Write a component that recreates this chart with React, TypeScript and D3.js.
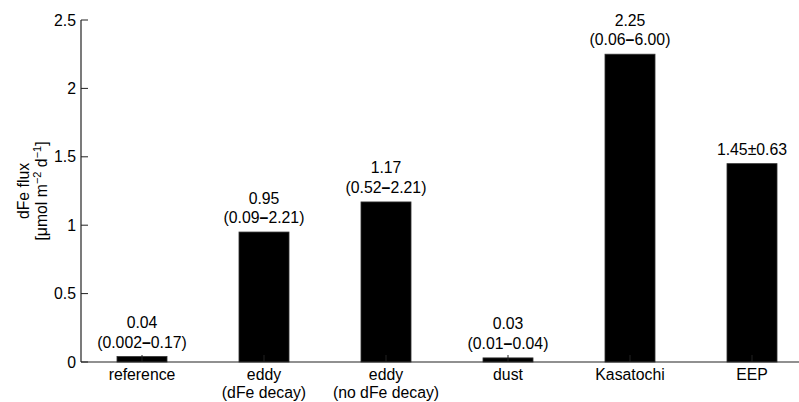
import React from 'react'
import * as d3 from 'd3'

const categories = ['reference', 'eddy\n(dFe decay)', 'eddy\n(no dFe decay)', 'dust', 'Kasatochi', 'EEP']
const fluxValues = [0.04, 0.95, 1.17, 0.03, 2.25, 1.45]
const barLabels = ['0.04\n(0.002\u20130.17)', '0.95\n(0.09\u20132.21)', '1.17\n(0.52\u20132.21)', '0.03\n(0.01\u20130.04)', '2.25\n(0.06\u20136.00)', '1.45\u00b10.63']
const yTicks = [0, 0.5, 1, 1.5, 2, 2.5]

const W = 799
const H = 402
const left = 81
const bottom = 362
const top = 20
const font = '"Liberation Sans", Arial, Helvetica, sans-serif'
const fs = 15.8

// en dash drawn a bit heavier, like the reference
function withDash(s: string) {
  const parts = s.split('\u2013')
  if (parts.length === 1) return s
  return (
    <>
      {parts[0]}
      <tspan fontWeight="bold">{'\u2013'}</tspan>
      {parts[1]}
    </>
  )
}

export default function App() {
  const x = d3.scaleBand().domain(categories).range([left, left + 6 * 122]).paddingInner(0.59).paddingOuter(0.295)
  const y = d3.scaleLinear().domain([0, 2.5]).range([bottom, top])
  const tickFmt = (v: number) => (v === 0 ? '0' : d3.format('~g')(v))

  return (
    <svg width={W} height={H} style={{ position: 'absolute', left: 0, top: 0, background: '#fff' }} fontFamily={font} fontSize={fs}>
      {/* bars */}
      {categories.map((c, i) => (
        <rect key={c} x={x(c)} y={y(fluxValues[i])} width={x.bandwidth()} height={y(0) - y(fluxValues[i])} fill="#000" stroke="#333" strokeWidth={0.8} />
      ))}
      {/* x ticks (inward) */}
      {categories.map(c => (
        <line key={c} x1={x(c)! + x.bandwidth() / 2} x2={x(c)! + x.bandwidth() / 2} y1={bottom} y2={bottom - 7} stroke="#222" strokeWidth={1} />
      ))}
      {/* axes */}
      <line x1={left} x2={left + 6 * 122} y1={bottom} y2={bottom} stroke="#222" strokeWidth={1.2} />
      <line x1={left} x2={left} y1={top} y2={bottom} stroke="#222" strokeWidth={1.2} />
      {yTicks.map(t => (
        <g key={t}>
          <line x1={left} x2={left + 7} y1={y(t)} y2={y(t)} stroke="#222" strokeWidth={1} />
          <text x={left - 5} y={y(t)} dy="0.36em" textAnchor="end" fill="#000">{tickFmt(t)}</text>
        </g>
      ))}
      {/* category labels */}
      {categories.map(c => (
        <text key={c} x={x(c)! + x.bandwidth() / 2} y={380} textAnchor="middle" fill="#000">
          {c.split('\n').map((ln, j) => (
            <tspan key={j} x={x(c)! + x.bandwidth() / 2} dy={j === 0 ? 0 : 18}>{ln}</tspan>
          ))}
        </text>
      ))}
      {/* value labels */}
      {categories.map((c, i) => {
        const lines = barLabels[i].split('\n')
        const cx = x(c)! + x.bandwidth() / 2
        const base = y(fluxValues[i]) - 9
        return (
          <text key={c} textAnchor="middle" fill="#000">
            {lines.map((ln, j) => (
              <tspan key={j} x={cx} y={base - (lines.length - 1 - j) * 19.5}>{withDash(ln)}</tspan>
            ))}
          </text>
        )
      })}
      {/* y label */}
      <text transform={`translate(29,${(top + bottom) / 2}) rotate(-90)`} textAnchor="middle" fill="#000">dFe flux</text>
      <text transform={`translate(47,${(top + bottom) / 2}) rotate(-90)`} textAnchor="middle" fill="#000">
        [μmol m<tspan dy={-6} fontSize={11}>−2</tspan><tspan dy={6}> d</tspan><tspan dy={-6} fontSize={11}>−1</tspan><tspan dy={6}>]</tspan>
      </text>
    </svg>
  )
}
